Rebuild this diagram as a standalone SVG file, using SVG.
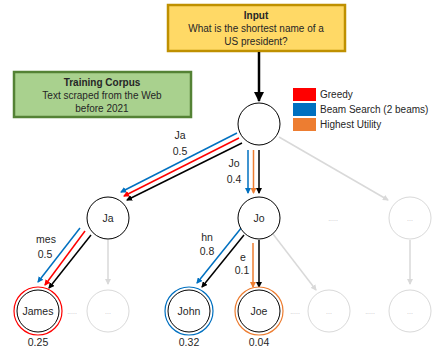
<svg xmlns="http://www.w3.org/2000/svg" width="432" height="351" viewBox="0 0 432 351">
<style>
text{font-family:"Liberation Sans",Arial,sans-serif;font-size:10px;fill:#262626;text-anchor:middle}
.b{font-weight:bold}
.lg{text-anchor:start;font-size:10px}
.el{font-size:10.5px}
.nl{font-size:10.5px}
.node{fill:#fff;stroke:#000;stroke-width:1}
.ghost{fill:#fff;stroke:#d9d9d9;stroke-width:1}
.gt{fill:#bfbfbf;font-size:7px}
.e{fill:none;stroke-width:1.5}
.blue{stroke:#0070c0}
.red{stroke:#ff0000}
.orange{stroke:#ed7d31}
.black{stroke:#000}
.gray{stroke:#d9d9d9}
</style>
<defs>
<marker id="aBlue" viewBox="0 0 6 6" refX="5" refY="3" markerWidth="6" markerHeight="6" markerUnits="userSpaceOnUse" orient="auto"><path d="M0,0L6,3L0,6z" fill="#0070c0"/></marker>
<marker id="aRed" viewBox="0 0 6 6" refX="5" refY="3" markerWidth="6" markerHeight="6" markerUnits="userSpaceOnUse" orient="auto"><path d="M0,0L6,3L0,6z" fill="#ff0000"/></marker>
<marker id="aOrange" viewBox="0 0 6 6" refX="5" refY="3" markerWidth="6" markerHeight="6" markerUnits="userSpaceOnUse" orient="auto"><path d="M0,0L6,3L0,6z" fill="#ed7d31"/></marker>
<marker id="aBlack" viewBox="0 0 6 6" refX="5" refY="3" markerWidth="6" markerHeight="6" markerUnits="userSpaceOnUse" orient="auto"><path d="M0,0L6,3L0,6z" fill="#000"/></marker>
<marker id="aGray" viewBox="0 0 6 6" refX="5" refY="3" markerWidth="6" markerHeight="6" markerUnits="userSpaceOnUse" orient="auto"><path d="M0,0L6,3L0,6z" fill="#d9d9d9"/></marker>
<marker id="aBig" viewBox="0 0 10 10" refX="9" refY="5" markerWidth="10" markerHeight="10" markerUnits="userSpaceOnUse" orient="auto"><path d="M0,0L10,5L0,10z" fill="#000"/></marker>
</defs>

<g id="input">
<rect x="168" y="5" width="177" height="46" fill="#ffd966" stroke="#bf9000" stroke-width="2.5"/>
<text x="256" y="19" class="b">Input</text>
<text x="256" y="32">What is the shortest name of a</text>
<text x="256" y="45">US president?</text>
</g>

<g id="corpus">
<rect x="14" y="72" width="177" height="45" fill="#a9d18e" stroke="#548235" stroke-width="2.5"/>
<text x="102" y="86" class="b">Training Corpus</text>
<text x="102" y="99">Text scraped from the Web</text>
<text x="102" y="112">before 2021</text>
</g>

<g id="legend">
<rect x="293" y="88" width="23" height="13" fill="#ff0000"/>
<rect x="293" y="103" width="23" height="13" fill="#0070c0"/>
<rect x="293" y="118" width="23" height="13" fill="#ed7d31"/>
<text x="320" y="98" class="lg">Greedy</text>
<text x="320" y="113" class="lg">Beam Search (2 beams)</text>
<text x="320" y="128" class="lg">Highest Utility</text>
</g>

<g id="connectors">
<line x1="259" y1="52" x2="259" y2="101" stroke="#000" stroke-width="2.5" marker-end="url(#aBig)"/>
<line class="e blue" x1="237" y1="133" x2="121" y2="192" marker-end="url(#aBlue)"/>
<line class="e red" x1="239" y1="138" x2="124" y2="196" marker-end="url(#aRed)"/>
<line class="e black" x1="242" y1="143" x2="127" y2="200" marker-end="url(#aBlack)"/>
<line class="e blue" x1="248" y1="150" x2="248" y2="193" marker-end="url(#aBlue)"/>
<line class="e orange" x1="253.5" y1="150" x2="253.5" y2="193" marker-end="url(#aOrange)"/>
<line class="e black" x1="259" y1="150" x2="259" y2="193" marker-end="url(#aBlack)"/>
<line class="e gray" x1="279" y1="137" x2="388" y2="200" marker-end="url(#aGray)"/>
<line class="e blue" x1="80" y1="228" x2="38" y2="282" marker-end="url(#aBlue)"/>
<line class="e red" x1="85" y1="231" x2="45" y2="285" marker-end="url(#aRed)"/>
<line class="e black" x1="91" y1="235" x2="49" y2="288" marker-end="url(#aBlack)"/>
<line class="e gray" x1="108" y1="240" x2="108" y2="284" marker-end="url(#aGray)"/>
<line class="e blue" x1="242" y1="227" x2="197" y2="283" marker-end="url(#aBlue)"/>
<line class="e black" x1="244" y1="235" x2="202" y2="287" marker-end="url(#aBlack)"/>
<line class="e orange" x1="253" y1="243" x2="253" y2="287" marker-end="url(#aOrange)"/>
<line class="e black" x1="259" y1="240" x2="259" y2="287" marker-end="url(#aBlack)"/>
<line class="e gray" x1="273" y1="234" x2="316" y2="290" marker-end="url(#aGray)"/>
<line class="e gray" x1="410" y1="240" x2="410" y2="284" marker-end="url(#aGray)"/>
</g>

<g id="edge-labels">
<text x="180" y="139" class="el">Ja</text>
<text x="180" y="155" class="el">0.5</text>
<text x="234" y="167" class="el">Jo</text>
<text x="234" y="183" class="el">0.4</text>
<text x="46" y="243" class="el">mes</text>
<text x="45" y="258" class="el">0.5</text>
<text x="207" y="241" class="el">hn</text>
<text x="207" y="255" class="el">0.8</text>
<text x="243" y="261" class="el">e</text>
<text x="242" y="274" class="el">0.1</text>
</g>

<g id="root"><circle class="node" cx="259" cy="124" r="21"/></g>
<g id="node-ja"><circle class="node" cx="108" cy="218" r="21"/><text x="108" y="222" class="nl">Ja</text></g>
<g id="node-jo"><circle class="node" cx="259" cy="218" r="21"/><text x="259" y="222" class="nl">Jo</text></g>
<g id="dots-row2"><text x="333" y="221" class="gt">.....</text></g>
<g id="ghost-r2"><circle class="ghost" cx="410" cy="218" r="21"/><text x="410" y="221" class="gt">...</text></g>

<g id="node-james">
<circle cx="38" cy="311" r="24" fill="#fff" stroke="#ff0000" stroke-width="1.2"/>
<circle class="node" cx="38" cy="311" r="21"/>
<text x="38" y="315" class="nl">James</text>
<text x="38" y="346" class="nl">0.25</text>
</g>
<g id="dots-a"><text x="72" y="314" class="gt">.....</text></g>
<g id="ghost-a"><circle class="ghost" cx="108" cy="311" r="21"/><text x="108" y="314" class="gt">...</text></g>
<g id="node-john">
<circle cx="189" cy="311" r="24" fill="#fff" stroke="#0070c0" stroke-width="1.2"/>
<circle class="node" cx="189" cy="311" r="21"/>
<text x="189" y="315" class="nl">John</text>
<text x="189" y="346" class="nl">0.32</text>
</g>
<g id="node-joe">
<circle cx="259" cy="311" r="24" fill="#fff" stroke="#ed7d31" stroke-width="1.2"/>
<circle class="node" cx="259" cy="311" r="21"/>
<text x="259" y="315" class="nl">Joe</text>
<text x="259" y="346" class="nl">0.04</text>
</g>
<g id="dots-b"><text x="295" y="314" class="gt">.....</text></g>
<g id="ghost-b"><circle class="ghost" cx="329" cy="311" r="21"/><text x="329" y="314" class="gt">...</text></g>
<g id="dots-c"><text x="370" y="314" class="gt">.....</text></g>
<g id="ghost-c"><circle class="ghost" cx="410" cy="311" r="21"/><text x="410" y="314" class="gt">...</text></g>
</svg>
